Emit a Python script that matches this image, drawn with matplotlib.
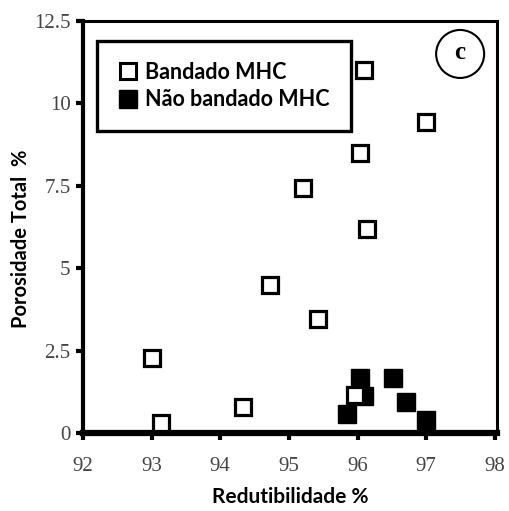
import matplotlib
matplotlib.use("Agg")
import matplotlib.pyplot as plt
from matplotlib.lines import Line2D
from matplotlib.patches import Ellipse

band_x = [93.0, 93.13, 94.33, 94.72, 95.43, 95.2, 96.03, 96.13, 96.1, 97.0, 95.96]
band_y = [2.27, 0.3, 0.79, 4.5, 3.45, 7.42, 8.5, 6.18, 11.0, 9.45, 1.15]
nband_x = [96.03, 96.1, 95.84, 96.51, 96.7, 97.0]
nband_y = [1.68, 1.12, 0.58, 1.67, 0.94, 0.39]
xticks = [92, 93, 94, 95, 96, 97, 98]
yticks = [0, 2.5, 5, 7.5, 10, 12.5]
ytick_labels = ["0", "2.5", "5", "7.5", "10", "12.5"]

fig = plt.figure(figsize=(5.10, 5.11), dpi=100)
ax = fig.add_axes([0.1627, 0.1526, 0.8118, 0.8063])

ax.plot(nband_x, nband_y, linestyle="none", marker="s", markersize=13,
        markerfacecolor="black", markeredgecolor="black", markeredgewidth=1, zorder=3)
ax.plot(band_x, band_y, linestyle="none", marker="s", markersize=11.5,
        markerfacecolor="white", markeredgecolor="black", markeredgewidth=2.3, zorder=4)

ax.set_xlim(92, 98.03)
ax.set_ylim(0, 12.5)
tick_font = {"family": "Liberation Serif", "size": 15, "color": "#444444"}
ax.set_xticks(xticks)
ax.set_xticklabels([str(t) for t in xticks], fontdict=tick_font)
ax.set_yticks(yticks)
ax.set_yticklabels(ytick_labels, fontdict=tick_font)

for side in ["top", "right"]:
    ax.spines[side].set_linewidth(2.2)
ax.spines["left"].set_linewidth(3)
ax.spines["bottom"].set_linewidth(4.5)
ax.tick_params(axis="both", direction="out", length=5, width=3, colors="black")
ax.tick_params(axis="x", pad=12, labelcolor="#444444")
ax.tick_params(axis="y", pad=4, labelcolor="#444444")

ax.set_xlabel("Redutibilidade %", fontfamily="Lato", fontweight="bold",
              fontsize=15, labelpad=8)
ax.set_ylabel("Porosidade Total  %", fontfamily="Lato", fontweight="bold",
              fontsize=14.5)
ax.yaxis.set_label_coords(-0.125, 0.472)

handles = [
    Line2D([], [], linestyle="none", marker="s", markersize=11, markerfacecolor="white",
           markeredgecolor="black", markeredgewidth=2.2),
    Line2D([], [], linestyle="none", marker="s", markersize=13, markerfacecolor="black",
           markeredgecolor="black"),
]
leg = ax.legend(handles, ["Bandado MHC", "Não bandado MHC"], loc="upper left",
                bbox_to_anchor=(0.034, 0.951), frameon=True, fancybox=False,
                framealpha=1,
                prop={"family": "Lato", "weight": "bold", "size": 15.5},
                handletextpad=0.3, handlelength=1.0, borderpad=0.95,
                labelspacing=0.3, borderaxespad=0)
leg.get_frame().set_edgecolor("black")
leg.get_frame().set_linewidth(2.4)

circ = Ellipse((0.911, 0.92), width=0.116, height=0.1165, transform=ax.transAxes,
               facecolor="white", edgecolor="black", linewidth=1.5, zorder=5)
ax.add_patch(circ)
ax.text(0.911, 0.924, "c", transform=ax.transAxes, ha="center", va="center",
        fontfamily="Liberation Serif", fontweight="bold", fontsize=18, zorder=6)

fig.savefig("out.png", dpi=100)
